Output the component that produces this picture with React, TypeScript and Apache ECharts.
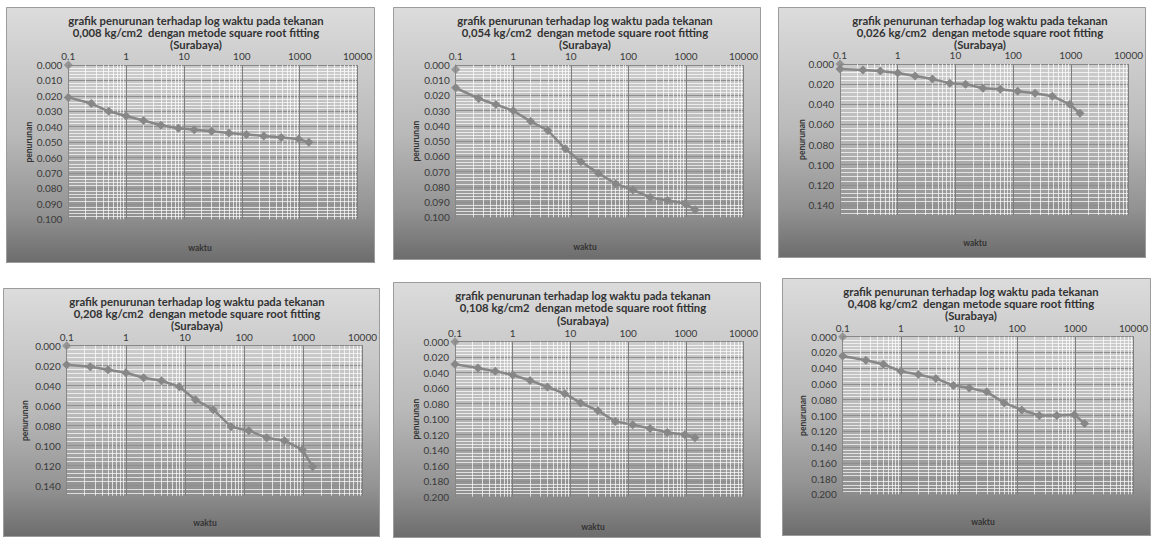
import React, { useEffect, useRef } from "react";
import * as echarts from "echarts";

// ---- data ----
const TIMES = [0.1, 0.25, 0.5, 1, 2, 4, 8, 15, 30, 60, 120, 240, 480, 960, 1440];
const X_TICK_LABELS = ["0.1", "1", "10", "100", "1000", "10000"];
const MINOR_DECADES = [0.1, 1, 10, 100, 1000];
const MINOR_MULTIPLES = [2, 3, 4, 5, 6, 7, 8, 9];

const PRESSURES = ["0,008", "0,054", "0,026", "0,208", "0,108", "0,408"];
const INITIAL = [0.0, 0.003, 0.0, 0.0, 0.0, 0.0];
const S_008 = [0.021, 0.025, 0.030, 0.033, 0.036, 0.039, 0.041, 0.042, 0.043, 0.044, 0.045, 0.046, 0.047, 0.048, 0.050];
const S_054 = [0.015, 0.022, 0.026, 0.030, 0.037, 0.043, 0.055, 0.0635, 0.071, 0.078, 0.082, 0.087, 0.089, 0.091, 0.095];
const S_026 = [0.005, 0.006, 0.007, 0.009, 0.012, 0.015, 0.019, 0.020, 0.024, 0.025, 0.027, 0.029, 0.032, 0.040, 0.049];
const S_208 = [0.019, 0.021, 0.024, 0.027, 0.032, 0.035, 0.041, 0.054, 0.064, 0.081, 0.085, 0.092, 0.095, 0.104, 0.121];
const S_108 = [0.029, 0.034, 0.038, 0.043, 0.050, 0.0585, 0.067, 0.079, 0.089, 0.103, 0.107, 0.112, 0.117, 0.120, 0.124];
const S_408 = [0.0245, 0.030, 0.035, 0.044, 0.048, 0.053, 0.062, 0.065, 0.070, 0.084, 0.093, 0.100, 0.100, 0.099, 0.110];
const SERIES = [S_008, S_054, S_026, S_208, S_108, S_408];
const Y_MAX = [0.1, 0.1, 0.15, 0.15, 0.2, 0.2];
const Y_STEP = [0.01, 0.01, 0.02, 0.02, 0.02, 0.02];

const TITLE_1 = "grafik penurunan terhadap log waktu pada tekanan";
const TITLE_3 = "(Surabaya)";
const X_NAME = "waktu";
const Y_NAME = "penurunan";

// ---- layout (px) ----
type Layout = {
  box: [number, number, number, number]; // x, y, w, h
  grid: [number, number, number, number]; // left, top, width, height (relative)
  titleX: number;
  titleY: [number, number, number];
  xName: [number, number];
  yNameX: number;
};
const LAYOUTS: Layout[] = [
  { box: [6, 7, 369, 256], grid: [62.3, 58, 297.4, 154.3], titleX: 190, titleY: [13.2, 25.4, 37.6], xName: [194, 241], yNameX: 23 },
  { box: [393, 7, 368, 253], grid: [62.7, 58, 299.3, 152.3], titleX: 192, titleY: [13.2, 25.4, 37.6], xName: [192, 239.7], yNameX: 22.7 },
  { box: [778, 7, 368, 251], grid: [62, 57, 295.7, 151], titleX: 202, titleY: [13.2, 25.4, 37.2], xName: [197, 236], yNameX: 23.7 },
  { box: [3, 288, 377, 249], grid: [63.7, 57.7, 303.3, 150], titleX: 194, titleY: [13.2, 25.2, 37.2], xName: [202, 235], yNameX: 22 },
  { box: [393, 282, 368, 256], grid: [62, 59.7, 295, 155], titleX: 190, titleY: [13.4, 25.8, 38.2], xName: [200, 244.7], yNameX: 22.7 },
  { box: [782, 278, 369, 258], grid: [60.7, 58.7, 298, 157.6], titleX: 189, titleY: [13.4, 25.6, 37.8], xName: [201, 243.7], yNameX: 21 },
];

const FONT = "Lato, 'Open Sans', sans-serif";
const GRAY_LINE = "#878787";

function Panel({ idx }: { idx: number }) {
  const ref = useRef<HTMLDivElement>(null);
  const L = LAYOUTS[idx];
  useEffect(() => {
    if (!ref.current) return;
    const chart = echarts.init(ref.current, undefined, { renderer: "svg" });
    const [, , bw, bh] = L.box;
    const max = Y_MAX[idx];
    const step = Y_STEP[idx];
    const ratio = max / step;
    const maxIsTick = Math.abs(ratio - Math.round(ratio)) < 1e-9;
    const minorXs: number[] = [];
    MINOR_DECADES.forEach((d) => MINOR_MULTIPLES.forEach((m) => minorXs.push(+(d * m).toPrecision(6))));
    const lineData = TIMES.map((t, i) => [t, SERIES[idx][i]]);
    const titleStyle = {
      fill: "#333333",
      fontSize: 11.3,
      lineHeight: 11,
      fontWeight: "bold",
      fontFamily: FONT,
      align: "center",
      verticalAlign: "middle",
    };
    const titles = [TITLE_1, `${PRESSURES[idx]} kg/cm2  dengan metode square root fitting`, TITLE_3];
    chart.setOption({
      animation: false,
      backgroundColor: new echarts.graphic.LinearGradient(0, 0, 0, 1, [
        { offset: 0, color: "#dcdcdc" },
        { offset: 0.5, color: "#b9b9b9" },
        { offset: 0.8, color: "#939393" },
        { offset: 1, color: "#6c6c6c" },
      ]),
      textStyle: { fontFamily: FONT },
      grid: { left: L.grid[0], top: L.grid[1], width: L.grid[2], height: L.grid[3], containLabel: false },
      xAxis: {
        type: "log",
        logBase: 10,
        min: 0.1,
        max: 10000,
        position: "top",
        axisLine: { show: true, lineStyle: { color: GRAY_LINE } },
        axisTick: { show: false },
        axisLabel: {
          margin: 4,
          color: "#3a3a3a",
          fontSize: 10,
          lineHeight: 10,
          fontFamily: FONT,
          formatter: (v: number) => {
            const s = String(+(+v).toPrecision(6));
            return X_TICK_LABELS.includes(s) ? s : "";
          },
        },
        splitLine: { show: true, lineStyle: { color: "#7e7e7e", width: 1 } },
      },
      yAxis: {
        type: "value",
        inverse: true,
        min: 0,
        max,
        interval: step,
        axisLine: { show: true, lineStyle: { color: GRAY_LINE } },
        axisTick: { show: false },
        axisLabel: {
          margin: 6,
          color: "#3a3a3a",
          fontSize: 10,
          fontFamily: FONT,
          showMaxLabel: maxIsTick,
          formatter: (v: number) => (+v).toFixed(3),
        },
        splitLine: { show: true, lineStyle: { color: "#8e8e8e", width: 1 } },
        minorTick: { show: false, splitNumber: 5 },
        minorSplitLine: { show: true, lineStyle: { color: "#ffffff", width: 1, opacity: 0.7 } },
      },
      series: [
        {
          type: "line",
          data: [],
          z: 1,
          silent: true,
          markLine: {
            z: 1,
            silent: true,
            symbol: ["none", "none"],
            label: { show: false },
            lineStyle: { color: "#ffffff", width: 1, type: "solid", opacity: 0.7 },
            emphasis: { disabled: true },
            data: minorXs.map((x) => ({ xAxis: x })),
          },
        },
        {
          name: "penurunan",
          type: "line",
          data: lineData,
          symbol: "diamond",
          symbolSize: 9,
          lineStyle: { color: GRAY_LINE, width: 2.5 },
          itemStyle: { color: GRAY_LINE },
          z: 6,
        },
        {
          name: "awal",
          type: "scatter",
          data: [[0.1, INITIAL[idx]]],
          symbol: "diamond",
          symbolSize: 9,
          itemStyle: { color: GRAY_LINE },
          z: 6,
        },
      ],
      graphic: [
        {
          type: "rect",
          silent: true,
          z: 10,
          shape: { x: 0.5, y: 0.5, width: bw - 1, height: bh - 1 },
          style: { fill: "none", stroke: "#9c9c9c", lineWidth: 1 },
        },
        ...titles.map((t, i) => ({
          type: "text",
          silent: true,
          x: L.titleX,
          y: L.titleY[i],
          style: { ...titleStyle, text: t },
        })),
        {
          type: "text",
          silent: true,
          x: L.xName[0],
          y: L.xName[1],
          style: { text: X_NAME, fill: "#333333", fontSize: 8.5, fontWeight: "bold", fontFamily: FONT, align: "center", verticalAlign: "middle" },
        },
        {
          type: "text",
          silent: true,
          x: L.yNameX,
          y: L.grid[1] + L.grid[3] / 2,
          rotation: Math.PI / 2,
          style: { text: Y_NAME, fill: "#333333", fontSize: 8.5, fontWeight: "bold", fontFamily: FONT, align: "center", verticalAlign: "middle" },
        },
      ],
    });
    return () => chart.dispose();
  }, [idx]);
  const [bx, by, bw, bh] = L.box;
  return (
    <div
      ref={ref}
      style={{ position: "absolute", left: bx, top: by, width: bw, height: bh, overflow: "hidden" }}
    />
  );
}

export default function App() {
  return (
    <div style={{ position: "absolute", left: 0, top: 0, width: 1158, height: 538, background: "#ffffff", overflow: "hidden" }}>
      {LAYOUTS.map((_, i) => (
        <Panel key={i} idx={i} />
      ))}
    </div>
  );
}
